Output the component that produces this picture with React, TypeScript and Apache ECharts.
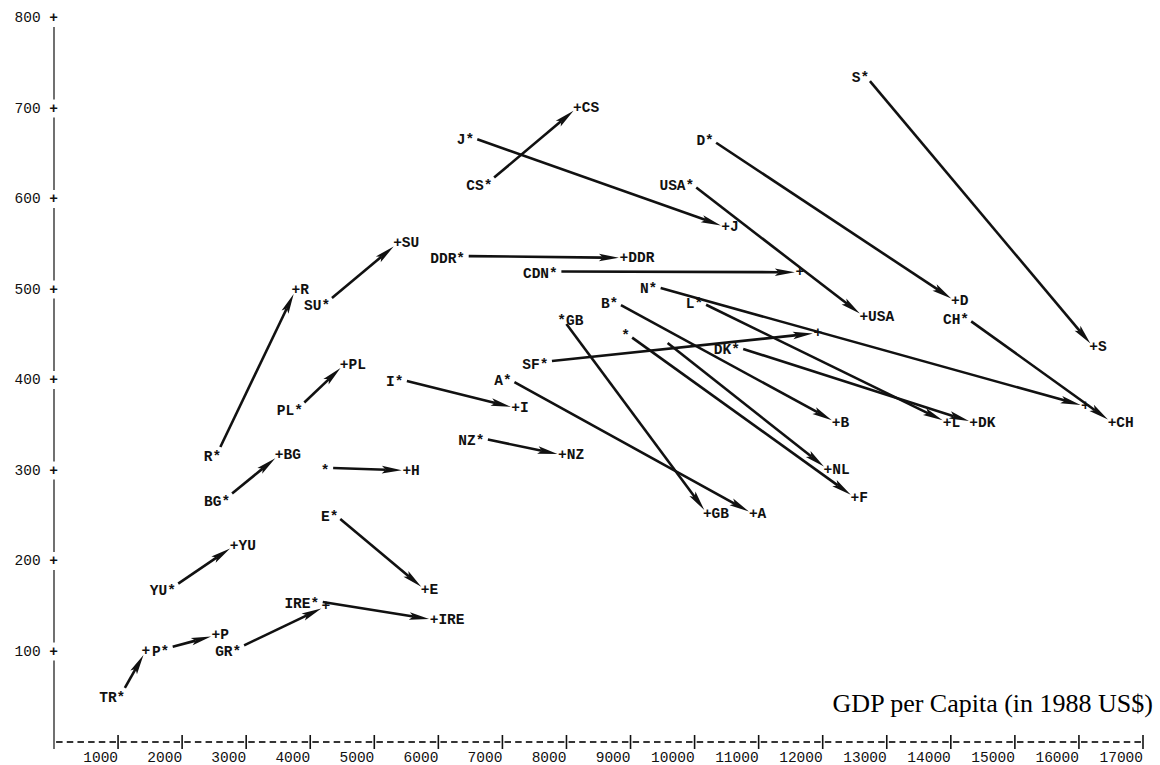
import React, { useEffect, useRef } from "react";
import * as echarts from "echarts";

// Country codes, in drawing order
const codes = ["TR", "P", "GR", "IRE", "YU", "BG", "R", "H", "E", "PL", "SU", "I", "NZ", "A", "GB", "SF", "CS", "J", "DDR", "CDN", "N", "B", "L", "DK", "F", "NL", "USA", "D", "S", "CH"];
// start of each arrow ("*" point): GDP per capita, value
const startGdp = [1045, 1732, 2855, 4072, 1836, 2683, 2543, 4233, 4373, 3817, 4243, 5387, 6651, 7078, 7925, 7649, 6775, 6490, 6349, 7796, 9350, 8741, 10067, 10640, 8924, 9579, 9927, 10232, 12657, 14217];
const startVal = [52, 103, 103, 156, 170, 269, 318, 303, 252, 369, 485, 401, 336, 402, 469, 420, 618, 669, 537, 520, 504, 487, 487, 437, 452, 441, 618, 667, 737, 470];
// end of each arrow ("+" point)
const endGdp = [1435, 2527, 4243, 5933, 2813, 3515, 3775, 5507, 5793, 4529, 5362, 7207, 7936, 10916, 10198, 11924, 8170, 10484, 8897, 11643, 16100, 12211, 13942, 14357, 12501, 12080, 12641, 14072, 16229, 16516];
const endVal = [101, 118, 150, 135, 217, 317, 500, 300, 168, 417, 551, 369, 317, 252, 252, 452, 701, 569, 535, 519, 371, 353, 353, 353, 270, 301, 470, 487, 436, 353];
// labels as printed in the original
const startLabels = ["TR*", "P*", "GR*", "IRE*", "YU*", "BG*", "R*", "*", "E*", "PL*", "SU*", "I*", "NZ*", "A*", "*GB", "SF*", "CS*", "J*", "DDR*", "CDN*", "N*", "B*", "L*", "DK*", "*", "", "USA*", "D*", "S*", "CH*"];
const endLabels = ["+", "+P", "+", "+IRE", "+YU", "+BG", "+R", "+H", "+E", "+PL", "+SU", "+I", "+NZ", "+A", "+GB", "+", "+CS", "+J", "+DDR", "+", "+", "+B", "+L", "+DK", "+F", "+NL", "+USA", "+D", "+S", "+CH"];
// axis ticks
const xTicks = [0, 1000, 2000, 3000, 4000, 5000, 6000, 7000, 8000, 9000, 10000, 11000, 12000, 13000, 14000, 15000, 16000, 17000];
const yTicks = [0, 100, 200, 300, 400, 500, 600, 700, 800];
const xTitle = "GDP per Capita (in 1988 US$)";

const MONO = "Liberation Mono";
const INK = "#111";
const FS = 14.5;

export default function App() {
  const ref = useRef<HTMLDivElement>(null);

  useEffect(() => {
    if (!ref.current) return;
    const chart = echarts.init(ref.current, null, { renderer: "svg" });

    const arrowData = codes.map((c, i) => [startGdp[i], startVal[i], endGdp[i], endVal[i]]);
    const xSegs = xTicks.slice(0, -1).map((v, i) => [v, 0, xTicks[i + 1]]);
    const ySegs = yTicks.slice(0, -1).map((v, i) => [0, v, yTicks[i + 1]]);

    const option: any = {
      animation: false,
      backgroundColor: "#ffffff",
      grid: { left: 54, right: 17, top: 18, bottom: 19, containLabel: false },
      xAxis: {
        type: "value",
        min: 0,
        max: 17000,
        interval: 1000,
        axisLine: { show: false },
        axisTick: { show: false },
        axisLabel: {
          show: true,
          margin: 8,
          align: "right",
          color: INK,
          fontFamily: MONO,
          fontSize: FS,
          formatter: (v: number) => (v === 0 ? "" : String(v)),
        },
        splitLine: { show: false },
      },
      yAxis: {
        type: "value",
        min: 0,
        max: 800,
        interval: 100,
        axisLine: { show: false },
        axisTick: { show: false },
        axisLabel: {
          show: true,
          margin: -4,
          color: INK,
          fontFamily: MONO,
          fontSize: FS,
          formatter: (v: number) => (v === 0 ? "" : "{n|" + v + "} {p|+}"),
          rich: {
            n: { fontFamily: MONO, fontSize: FS, color: INK },
            p: { fontFamily: MONO, fontSize: FS, color: INK, fontWeight: "bold" },
          },
        },
        splitLine: { show: false },
      },
      graphic: [
        {
          type: "text",
          x: 1153,
          y: 703,
          style: {
            text: xTitle,
            align: "right",
            verticalAlign: "middle",
            fontFamily: "Liberation Serif",
            fontSize: 26,
            fill: "#000",
          },
        },
      ],
      series: [
        {
          // x axis: dashed segments between ticks plus "|" tick marks
          type: "custom",
          name: "xaxis",
          coordinateSystem: "cartesian2d",
          data: xSegs,
          encode: { x: [0, 2], y: 1 },
          clip: false,
          silent: true,
          renderItem: (params: any, api: any) => {
            const a = api.coord([api.value(0), 0]);
            const b = api.coord([api.value(2), 0]);
            const L = b[0] - a[0];
            const gap = L / 6 - 6.5;
            const children: any[] = [];
            for (let k = 0; k < 6; k++) {
              const x1 = a[0] + gap / 2 + k * (6.5 + gap);
              children.push({
                type: "line",
                shape: { x1, y1: a[1], x2: x1 + 6.5, y2: a[1] },
                style: { stroke: INK, lineWidth: 1.7 },
              });
            }
            children.push({
              type: "line",
              shape: { x1: b[0], y1: b[1] - 7, x2: b[0], y2: b[1] + 7 },
              style: { stroke: INK, lineWidth: 1.6 },
            });
            return { type: "group", children };
          },
        },
        {
          // y axis: solid segments with gaps around the "+" marks
          type: "custom",
          name: "yaxis",
          coordinateSystem: "cartesian2d",
          data: ySegs,
          encode: { x: 0, y: [1, 2] },
          clip: false,
          silent: true,
          renderItem: (params: any, api: any) => {
            const a = api.coord([0, api.value(1)]);
            const b = api.coord([0, api.value(2)]);
            const y1 = api.value(1) === 0 ? a[1] + 7 : a[1] - 9;
            return {
              type: "line",
              shape: { x1: a[0], y1, x2: b[0], y2: b[1] + 9 },
              style: { stroke: INK, lineWidth: 1.2 },
            };
          },
        },
        {
          type: "custom",
          name: "arrows",
          coordinateSystem: "cartesian2d",
          data: arrowData,
          encode: { x: [0, 2], y: [1, 3] },
          clip: false,
          renderItem: (params: any, api: any) => {
            const i = params.dataIndex;
            const p0 = api.coord([api.value(0), api.value(1)]);
            const p1 = api.coord([api.value(2), api.value(3)]);
            const dx = p1[0] - p0[0];
            const dy = p1[1] - p0[1];
            const len = Math.hypot(dx, dy) || 1;
            const ux = dx / len;
            const uy = dy / len;
            const s = startLabels[i] === "" ? p0 : [p0[0] + ux * 8, p0[1] + uy * 8];
            const e = [p1[0] - ux * 5, p1[1] - uy * 5];
            const HL = 20;
            const HW = 3.8;
            const bx = e[0] - ux * HL;
            const by = e[1] - uy * HL;
            const nx = -uy;
            const ny = ux;
            const notch = [e[0] - ux * HL * 0.8, e[1] - uy * HL * 0.8];
            const children: any[] = [
              {
                type: "line",
                shape: { x1: s[0], y1: s[1], x2: notch[0], y2: notch[1] },
                style: { stroke: INK, lineWidth: 2.6 },
              },
              {
                type: "polygon",
                shape: {
                  points: [
                    [e[0], e[1]],
                    [bx + nx * HW, by + ny * HW],
                    notch,
                    [bx - nx * HW, by - ny * HW],
                  ],
                },
                style: { fill: INK },
              },
            ];
            const half = FS * 0.3;
            const sl = startLabels[i];
            if (sl) {
              const lead = sl.charAt(0) === "*";
              children.push({
                type: "text",
                x: lead ? p0[0] - half : p0[0] + half,
                y: p0[1] + 3,
                style: {
                  text: sl,
                  align: lead ? "left" : "right",
                  verticalAlign: "middle",
                  fontFamily: MONO,
                  fontSize: FS,
                  fontWeight: "bold",
                  fill: INK,
                },
              });
            }
            const el = endLabels[i];
            if (el) {
              children.push({
                type: "text",
                x: p1[0] - half,
                y: p1[1],
                style: {
                  text: el,
                  align: "left",
                  verticalAlign: "middle",
                  fontFamily: MONO,
                  fontSize: FS,
                  fontWeight: "bold",
                  fill: INK,
                },
              });
            }
            return { type: "group", children };
          },
        },
      ],
    };

    chart.setOption(option);
    return () => {
      chart.dispose();
    };
  }, []);

  return (
    <div
      ref={ref}
      style={{ position: "absolute", left: 0, top: 0, width: 1160, height: 765 }}
    />
  );
}
